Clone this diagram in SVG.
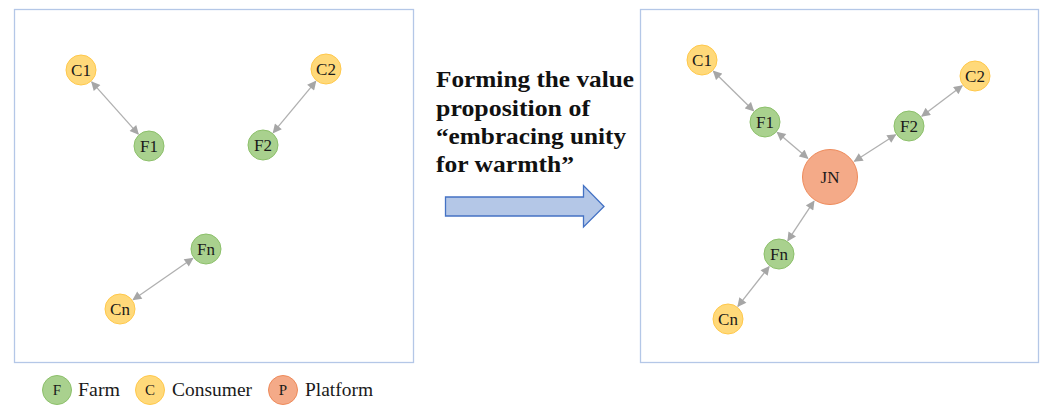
<svg xmlns="http://www.w3.org/2000/svg" width="1041" height="405" viewBox="0 0 1041 405">
  <style>
    .frame { fill: none; stroke: #b4c7e7; stroke-width: 1.3; }
    .farm { fill: #a9d18e; stroke: #8cc06a; stroke-width: 1; }
    .cons { fill: #ffd97a; stroke: #ffc84a; stroke-width: 1; }
    .plat { fill: #f4aa88; stroke: #ee8a5a; stroke-width: 1; }
    .lbl { font-family: "Liberation Serif", serif; font-size: 17px; fill: #1a1a1a; text-anchor: middle; }
    .lgd { font-family: "Liberation Serif", serif; font-size: 18px; fill: #1a1a1a; }
    .lgdc { font-family: "Liberation Serif", serif; font-size: 15px; fill: #1a1a1a; text-anchor: middle; }
    .title { font-family: "Liberation Serif", serif; font-size: 23px; font-weight: bold; fill: #111; }
    .link { stroke: #b0b0b0; stroke-width: 1.3; fill: none; marker-start: url(#tip); marker-end: url(#tip); }
  </style>
  <defs>
    <marker id="tip" viewBox="0 0 10 10" refX="9" refY="5" markerWidth="10" markerHeight="9" markerUnits="userSpaceOnUse" orient="auto-start-reverse">
      <path d="M0,0 L10,5 L0,10 Z" fill="#a6a6a6"/>
    </marker>
  </defs>

  <!-- panels -->
  <rect class="frame" x="14.5" y="9.5" width="399" height="353"/>
  <rect class="frame" x="640.5" y="9.5" width="398" height="353"/>

  <!-- connectors -->
  <g id="connectors">
    <line class="link" x1="91.7" y1="81.9" x2="138.3" y2="134.1"/>
    <line class="link" x1="315.8" y1="81.3" x2="273.2" y2="132.7"/>
    <line class="link" x1="192.9" y1="258.2" x2="133.1" y2="299.8"/>

    <line class="link" x1="713.4" y1="71.2" x2="753.6" y2="110.8"/>
    <line class="link" x1="777.2" y1="132.3" x2="807.8" y2="158.3"/>
    <line class="link" x1="962.2" y1="85.7" x2="921.8" y2="116.3"/>
    <line class="link" x1="895.6" y1="134.7" x2="854.4" y2="161.3"/>
    <line class="link" x1="814.0" y1="201.2" x2="787.8" y2="240.7"/>
    <line class="link" x1="769.1" y1="266.6" x2="737.9" y2="306.4"/>
  </g>

  <!-- left panel: separate farms and consumers -->
  <g id="left-c1"><circle class="cons" cx="81" cy="70" r="15"/><text class="lbl" x="81" y="76">C1</text></g>
  <g id="left-f1"><circle class="farm" cx="149" cy="146" r="15"/><text class="lbl" x="149" y="152">F1</text></g>
  <g id="left-c2"><circle class="cons" cx="326" cy="69" r="15"/><text class="lbl" x="326" y="75">C2</text></g>
  <g id="left-f2"><circle class="farm" cx="263" cy="145" r="15"/><text class="lbl" x="263" y="151">F2</text></g>
  <g id="left-fn"><circle class="farm" cx="206" cy="249" r="15"/><text class="lbl" x="206" y="255">Fn</text></g>
  <g id="left-cn"><circle class="cons" cx="120" cy="309" r="15"/><text class="lbl" x="120" y="315">Cn</text></g>

  <!-- right panel: platform-centred network -->
  <g id="right-c1"><circle class="cons" cx="702" cy="60" r="15"/><text class="lbl" x="702" y="66">C1</text></g>
  <g id="right-f1"><circle class="farm" cx="765" cy="122" r="15"/><text class="lbl" x="765" y="128">F1</text></g>
  <g id="right-c2"><circle class="cons" cx="975" cy="76" r="15"/><text class="lbl" x="975" y="82">C2</text></g>
  <g id="right-f2"><circle class="farm" cx="909" cy="126" r="15"/><text class="lbl" x="909" y="132">F2</text></g>
  <g id="right-jn"><circle class="plat" cx="830" cy="177" r="27.5"/><text class="lbl" x="830" y="183">JN</text></g>
  <g id="right-fn"><circle class="farm" cx="779" cy="254" r="15"/><text class="lbl" x="779" y="260">Fn</text></g>
  <g id="right-cn"><circle class="cons" cx="728" cy="319" r="15"/><text class="lbl" x="728" y="325">Cn</text></g>

  <!-- caption and transition arrow -->
  <g id="caption">
    <text class="title" x="436" y="87" textLength="198" lengthAdjust="spacingAndGlyphs">Forming the value</text>
    <text class="title" x="436" y="116" textLength="154" lengthAdjust="spacingAndGlyphs">proposition of</text>
    <text class="title" x="436" y="144" textLength="190" lengthAdjust="spacingAndGlyphs">“embracing unity</text>
    <text class="title" x="436" y="172" textLength="138" lengthAdjust="spacingAndGlyphs">for warmth”</text>
  </g>
  <g id="transition-arrow">
    <path d="M445.5,197 L583.5,197 L583.5,185.5 L604,206.5 L583.5,227 L583.5,216 L445.5,216 Z" fill="#b4c7e7" stroke="#4472c4" stroke-width="1.3" stroke-linejoin="miter"/>
  </g>

  <!-- legend -->
  <g id="legend">
    <g id="legend-farm"><circle class="farm" cx="57" cy="390" r="14.5"/><text class="lgdc" x="57" y="395">F</text><text class="lgd" x="78" y="396" textLength="42" lengthAdjust="spacingAndGlyphs">Farm</text></g>
    <g id="legend-consumer"><circle class="cons" cx="150" cy="390" r="14.5"/><text class="lgdc" x="150" y="395">C</text><text class="lgd" x="172" y="396" textLength="80" lengthAdjust="spacingAndGlyphs">Consumer</text></g>
    <g id="legend-platform"><circle class="plat" cx="283" cy="390" r="14.5"/><text class="lgdc" x="283" y="395">P</text><text class="lgd" x="305" y="396" textLength="68" lengthAdjust="spacingAndGlyphs">Platform</text></g>
  </g>
</svg>
